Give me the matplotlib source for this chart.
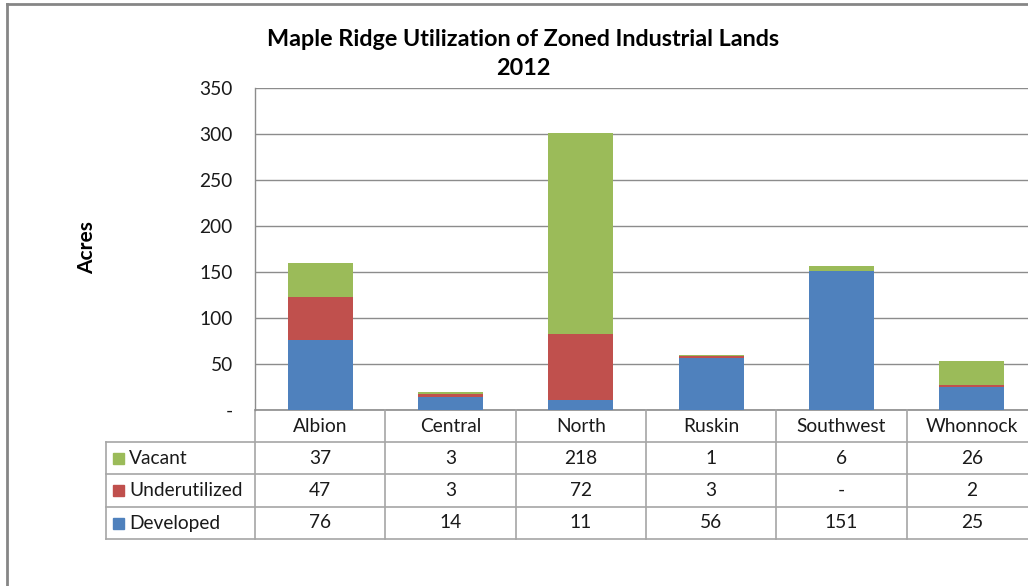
import matplotlib
matplotlib.use("Agg")
import matplotlib.pyplot as plt
from matplotlib.transforms import blended_transform_factory
from matplotlib.lines import Line2D
from matplotlib.patches import Rectangle
from matplotlib.ticker import FuncFormatter

plt.rcParams['font.family'] = ['Lato', 'DejaVu Sans']

regions = ["Albion", "Central", "North", "Ruskin", "Southwest", "Whonnock"]
developed = [76, 14, 11, 56, 151, 25]
underutilized = [47, 3, 72, 3, 0, 2]
vacant = [37, 3, 218, 1, 6, 26]
series_names = ["Vacant", "Underutilized", "Developed"]
colors = {"Developed": "#4F81BD", "Underutilized": "#C0504D", "Vacant": "#9BBB59"}
title = "Maple Ridge Utilization of Zoned Industrial Lands\n2012"
ylabel = "Acres"
yticks = [0, 50, 100, 150, 200, 250, 300, 350]

W, H = 1028, 586
FS = 13.8
TXT = "#1a1a1a"
fig = plt.figure(figsize=(W / 100, H / 100), dpi=100)
fig.patch.set_facecolor("white")

# plot area in pixels
L, R, T, B = 255, 1037, 88, 410
ax = fig.add_axes([L / W, 1 - B / H, (R - L) / W, (B - T) / H])

x = list(range(len(regions)))
bw = 0.5
ax.bar(x, developed, bw, color=colors["Developed"], zorder=3)
bot2 = developed
ax.bar(x, underutilized, bw, bottom=bot2, color=colors["Underutilized"], zorder=3)
bot3 = [a + b for a, b in zip(developed, underutilized)]
ax.bar(x, vacant, bw, bottom=bot3, color=colors["Vacant"], zorder=3)

ax.set_xlim(-0.5, len(regions) - 0.5)
ax.set_ylim(0, 350)
ax.set_yticks(yticks)
ax.yaxis.set_major_formatter(FuncFormatter(lambda v, p: "-" if v == 0 else f"{int(v)}"))
ax.tick_params(axis='y', length=0, pad=16, labelsize=FS, labelcolor=TXT)
ax.set_xticks([])
ax.grid(axis='y', color="#8c8c8c", linewidth=1.0, zorder=0)
for s in ["top", "right", "bottom"]:
    ax.spines[s].set_visible(False)
ax.spines["left"].set_color("#8c8c8c")
ax.spines["left"].set_linewidth(1.0)

fig.text(87 / W, 1 - 248 / H, ylabel, rotation=90, ha="center", va="center",
         fontsize=15, fontweight="bold")
fig.text(523 / W, 1 - 54 / H, title, ha="center", va="center", fontsize=16.8,
         fontweight="bold", linespacing=1.45)

# data table
tr = blended_transform_factory(ax.transData, fig.transFigure)
px_per_unit = (R - L) / len(regions)
left_x = -0.5 - (L - 106) / px_per_unit
rows_px = [410, 442, 474, 507, 539]
lc = "#a6a6a6"

def fy(py):
    return 1 - py / H

# horizontal lines
ax.add_artist(Line2D([-0.5, len(regions) - 0.5], [fy(410)] * 2, transform=tr,
                     color="#8c8c8c", lw=1.2, clip_on=False))
for py in rows_px[1:]:
    ax.add_artist(Line2D([left_x, len(regions) - 0.5], [fy(py)] * 2, transform=tr,
                         color=lc, lw=1.2, clip_on=False))
# vertical lines
for i in range(len(regions) + 1):
    xv = i - 0.5
    ax.add_artist(Line2D([xv, xv], [fy(410), fy(539)], transform=tr,
                         color=lc, lw=1.2, clip_on=False))
ax.add_artist(Line2D([left_x, left_x], [fy(442), fy(539)], transform=tr,
                     color=lc, lw=1.2, clip_on=False))

# header
for i, name in enumerate(regions):
    ax.text(i, fy((410 + 442) / 2), name, transform=tr, ha="center", va="center",
            fontsize=FS, color=TXT, clip_on=False)

series_vals = {"Vacant": vacant, "Underutilized": underutilized, "Developed": developed}
for r, name in enumerate(series_names):
    yc = (rows_px[r + 1] + rows_px[r + 2]) / 2
    # legend key
    fig.add_artist(Rectangle((113 / W, fy(yc + 5.5)), 11 / W, 11 / H,
                             transform=fig.transFigure, color=colors[name]))
    fig.text(129 / W, fy(yc), name, ha="left", va="center", fontsize=FS, color=TXT)
    for i, v in enumerate(series_vals[name]):
        ax.text(i, fy(yc), "-" if v == 0 else str(v), transform=tr, ha="center",
                va="center", fontsize=FS, color=TXT, clip_on=False)

# outer chart border (left and top visible)
fig.add_artist(Line2D([7 / W, 7 / W], [0, fy(4)], transform=fig.transFigure,
                      color="#868686", lw=2))
fig.add_artist(Line2D([7 / W, 1], [fy(4), fy(4)], transform=fig.transFigure,
                      color="#868686", lw=2))

fig.savefig("out.png", dpi=100)
